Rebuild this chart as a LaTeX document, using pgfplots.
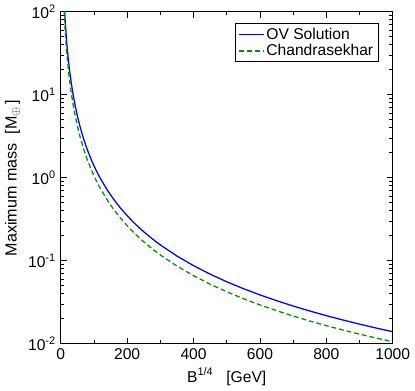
\documentclass[border=0pt]{standalone}
\usepackage{fontspec}
\setmainfont{Liberation Sans}
\usepackage{pgfplots}
\pgfplotsset{compat=1.18}
\definecolor{ovblue}{RGB}{0,0,255}
\definecolor{chgreen}{RGB}{0,145,0}
\begin{document}
\fontsize{15}{18}\selectfont
\begin{tikzpicture}
\begin{axis}[
  scale only axis,
  width=340pt, height=340pt,
  xmin=0, xmax=1000,
  ymin=0.01, ymax=100,
  ymode=log,
  xtick={0,200,400,600,800,1000},
  minor x tick num=1,
  ytick={0.01,0.1,1,10,100},
  yticklabels={10\textsuperscript{-2},10\textsuperscript{-1},10\textsuperscript{0},10\textsuperscript{1},10\textsuperscript{2}},
  /pgf/number format/assume math mode=true,
  /pgf/number format/1000 sep={},
  tick align=inside,
  major tick length=6pt,
  minor tick length=3.5pt,
  every tick/.style={black, line width=0.8pt},
  axis line style={line width=1pt},
  ticklabel style={font=\fontsize{16}{18}\selectfont},
  xlabel={B\textsuperscript{1/4}\ \ \ [GeV]},
  ylabel={Maximum mass\ \ [M$_{\oplus}$\,]},
  xlabel style={font=\fontsize{16}{18}\selectfont, yshift=2pt},
  ylabel style={font=\fontsize{16.5}{19}\selectfont, yshift=-2pt},
  legend style={at={(rel axis cs:0.957,0.965)}, anchor=north east, draw=black, line width=0.8pt, font=\fontsize{16}{18}\selectfont, inner xsep=3pt, inner ysep=2pt, row sep=-1pt},
  legend image code/.code={\draw[#1] (0pt,0pt) -- (25pt,0pt);},
  legend cell align=left,
  clip=true,
]
\addplot[color=ovblue, line width=1.3pt] coordinates {
(11.5,105.86) (12,97.22) (13,82.84) (14,71.43) (16,54.69) (18,43.21) (20,35.0) (22.5,27.65) (25,22.4) (27.5,18.51) (30,15.56) (35,11.43) (40,8.75) (45,6.914) (50,5.6) (55,4.628) (60,3.889) (70,2.857) (80,2.1875) (90,1.728) (100,1.4) (110,1.157) (120,0.9722) (140,0.7143) (160,0.5469) (180,0.4321) (200,0.35) (225,0.2765) (250,0.224) (275,0.1851) (300,0.1556) (350,0.1143) (400,0.0875) (450,0.06914) (500,0.056) (550,0.04628) (600,0.03889) (650,0.03314) (700,0.02857) (750,0.02489) (800,0.021875) (850,0.01938) (900,0.01728) (950,0.01551) (1000,0.014)
};
\addlegendentry{OV Solution}
\addplot[color=chgreen, line width=1.3pt, dash pattern=on 5pt off 3pt] coordinates {
(10,106.0) (10.5,96.15) (11,87.60) (12,73.61) (13,62.72) (14,54.08) (16,41.41) (18,32.72) (20,26.5) (22.5,20.94) (25,16.96) (27.5,14.02) (30,11.78) (35,8.653) (40,6.625) (45,5.235) (50,4.24) (55,3.504) (60,2.944) (70,2.163) (80,1.656) (90,1.309) (100,1.06) (110,0.876) (120,0.7361) (140,0.5408) (160,0.4141) (180,0.3272) (200,0.265) (225,0.2094) (250,0.1696) (275,0.1402) (300,0.1178) (350,0.08653) (400,0.06625) (450,0.05235) (500,0.0424) (550,0.03504) (600,0.02944) (650,0.02509) (700,0.02163) (750,0.01884) (800,0.01656) (850,0.01467) (900,0.01309) (950,0.01175) (1000,0.0106)
};
\addlegendentry{Chandrasekhar}
\end{axis}
\end{tikzpicture}
\end{document}
